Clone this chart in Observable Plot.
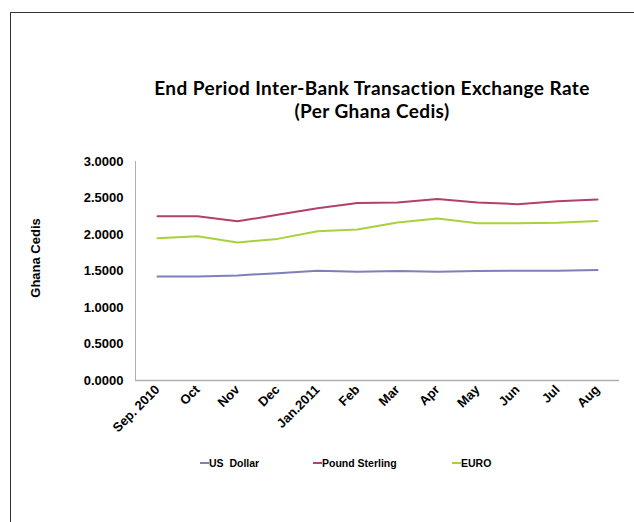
<!DOCTYPE html>
<html>
<head>
<meta charset="utf-8">
<script src="https://cdn.jsdelivr.net/npm/d3@7"></script>
<script src="https://cdn.jsdelivr.net/npm/@observablehq/plot@0.6"></script>
<style>
  html, body { margin: 0; padding: 0; background: #fff; }
  #wrap { position: relative; width: 634px; height: 522px; overflow: hidden; }
  #border { position: absolute; left: 10px; top: 12px; width: 700px; height: 600px; border: 1px solid #333; box-sizing: border-box; }
  .title { position: absolute; left: 72px; width: 600px; text-align: center; height: 19px; overflow: visible;
    font-family: Lato, "Open Sans", sans-serif; font-weight: 700; font-size: 19px; line-height: 19px; letter-spacing: 0.4px; color: #000; white-space: nowrap; }
  #ylabel { position: absolute; left: 35px; top: 258px; transform: translate(-50%, -50%) rotate(-90deg);
    font-family: "Liberation Sans", Arial, sans-serif; font-weight: bold; font-size: 13px; white-space: nowrap; }
  .leg { position: absolute; top: 457px; font-family: "Liberation Sans", Arial, sans-serif; font-weight: bold;
    font-size: 10.5px; white-space: pre; display: flex; align-items: center; }
  .sw { display: inline-block; width: 9px; height: 2px; margin-right: 0px; }
  #plot { position: absolute; left: 0; top: 0; }
</style>
</head>
<body>
<div id="wrap">
  <div id="border"></div>
  <div id="plot"></div>
  <div class="title" style="top:78px">End Period Inter-Bank Transaction Exchange Rate</div>
  <div class="title" style="top:101px">(Per Ghana Cedis)</div>
  <div id="ylabel"></div>
  <div id="legend"></div>
</div>
<script>
const months = ["Sep. 2010","Oct","Nov","Dec","Jan.2011","Feb","Mar","Apr","May","Jun","Jul","Aug"];
const usDollar = [1.425,1.425,1.44,1.47,1.505,1.49,1.50,1.49,1.50,1.505,1.505,1.515];
const poundSterling = [2.25,2.25,2.18,2.27,2.36,2.43,2.44,2.485,2.44,2.415,2.455,2.48];
const euro = [1.95,1.975,1.89,1.94,2.045,2.07,2.165,2.22,2.155,2.155,2.16,2.185];
const seriesNames = ["US  Dollar","Pound Sterling","EURO"];
const seriesColors = ["#7f7fba","#b23f6c","#a8d13c"];
const yTicks = [0,0.5,1,1.5,2,2.5,3];
const yLabel = "Ghana Cedis";

const seriesValues = [usDollar, poundSterling, euro];
const data = [];
seriesValues.forEach((vals, s) => vals.forEach((v, i) => data.push({month: months[i], value: v, series: seriesNames[s]})));

const chart = Plot.plot({
  width: 634,
  height: 522,
  marginTop: 161,
  marginBottom: 142,
  marginLeft: 135,
  marginRight: 15,
  style: { fontFamily: "'Liberation Sans', Arial, sans-serif", fontWeight: "bold", fontSize: "13px", color: "#000", background: "transparent" },
  x: { type: "point", domain: months, padding: 0.5, label: null, tickSize: 0, tickRotate: -45, tickPadding: 7 },
  y: { domain: [0, 3], ticks: yTicks, tickFormat: d => d.toFixed(4), tickSize: 0, tickPadding: 12, label: null },
  color: { domain: seriesNames, range: seriesColors },
  marks: [
    Plot.frame({ anchor: "left", stroke: "#b0b0b0" }),
    Plot.ruleY([0], { stroke: "#b0b0b0", strokeWidth: 1.5 }),
    Plot.line(data, { x: "month", y: "value", z: "series", stroke: "series", strokeWidth: 2, curve: "linear" })
  ]
});
document.getElementById("plot").appendChild(chart);
document.getElementById("ylabel").textContent = yLabel;

const legPos = [200, 313, 452];
const legend = document.getElementById("legend");
seriesNames.forEach((n, i) => {
  const d = document.createElement("div");
  d.className = "leg";
  d.style.left = legPos[i] + "px";
  const sw = document.createElement("span");
  sw.className = "sw";
  sw.style.background = seriesColors[i];
  const t = document.createElement("span");
  t.textContent = n;
  d.appendChild(sw); d.appendChild(t);
  legend.appendChild(d);
});
</script>
</body>
</html>
